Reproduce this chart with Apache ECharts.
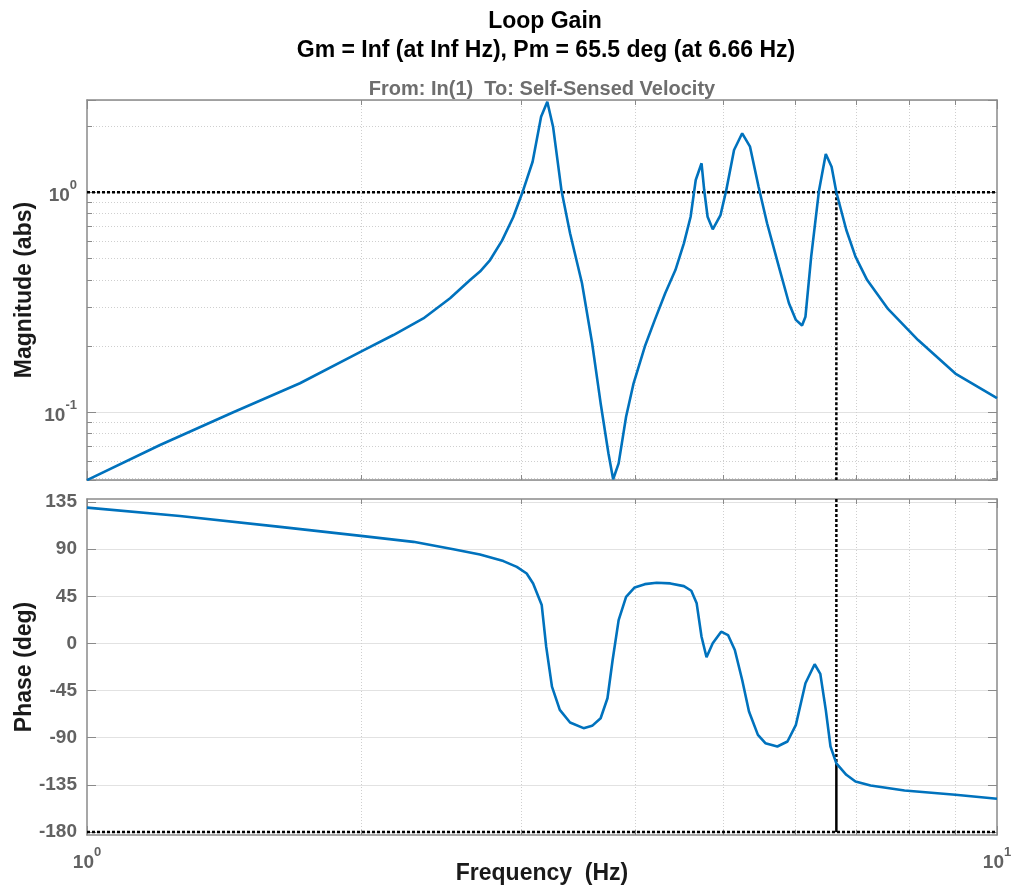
<!DOCTYPE html>
<html>
<head>
<meta charset="utf-8">
<script src="https://cdn.jsdelivr.net/npm/echarts@6/dist/echarts.min.js"></script>
<style>
html,body{margin:0;padding:0;background:#ffffff;}
#chart{width:1013px;height:887px;}
</style>
</head>
<body>
<div id="chart"></div>
<script>
// ---- Data ----
const magFreq = [1.000, 1.203, 1.448, 1.714, 2.000, 2.171, 2.342, 2.506, 2.636, 2.703, 2.773, 2.858, 2.940, 3.010,
  3.088, 3.155, 3.205, 3.252, 3.322, 3.395, 3.499, 3.590, 3.668, 3.741, 3.786, 3.839, 3.912, 3.987, 4.102, 4.207,
  4.318, 4.432, 4.528, 4.606, 4.666, 4.735, 4.767, 4.808, 4.871, 4.968, 5.040, 5.141, 5.248, 5.353, 5.470, 5.589,
  5.758, 5.907, 6.012, 6.106, 6.159, 6.249, 6.374, 6.484, 6.580, 6.660, 6.830, 6.990, 7.200, 7.580, 8.190, 9.000, 10.00];
const magValue = [0.0492, 0.0710, 0.100, 0.1355, 0.1887, 0.2245, 0.267, 0.330, 0.399, 0.436, 0.492, 0.603, 0.770, 1.000,
  1.377, 2.206, 2.580, 1.987, 1.020, 0.651, 0.386, 0.206, 0.110, 0.0651, 0.0496, 0.0586, 0.0955, 0.1355, 0.199, 0.263,
  0.347, 0.443, 0.586, 0.774, 1.137, 1.355, 1.024, 0.774, 0.679, 0.788, 1.020, 1.557, 1.854, 1.612, 1.060, 0.723,
  0.459, 0.313, 0.263, 0.248, 0.272, 0.510, 1.020, 1.493, 1.306, 1.000, 0.674, 0.510, 0.399, 0.297, 0.213, 0.150, 0.116];

const phaseFreq = [1.000, 1.265, 1.630, 2.000, 2.284, 2.527, 2.703, 2.868, 2.967, 3.042, 3.092, 3.160, 3.196, 3.243,
  3.308, 3.395, 3.513, 3.590, 3.668, 3.732, 3.781, 3.839, 3.912, 3.998, 4.102, 4.227, 4.375, 4.528, 4.614, 4.677,
  4.735, 4.795, 4.871, 4.976, 5.063, 5.151, 5.248, 5.339, 5.461, 5.565, 5.736, 5.885, 6.012, 6.159, 6.304, 6.395,
  6.484, 6.562, 6.660, 6.830, 6.990, 7.262, 7.914, 9.000, 10.00];
const phaseValue = [129.7, 121.7, 111.3, 102.7, 97.0, 90.0, 84.9, 78.6, 73.1, 66.8, 57.3, 36.6, -3.1, -41.2,
  -63.4, -75.5, -80.9, -78.7, -71.4, -52.3, -15.8, 22.3, 44.5, 53.5, 56.6, 57.9, 57.3, 54.7, 50.3, 38.3,
  6.4, -13.2, 0.1, 11.2, 8.0, -6.3, -34.9, -65.0, -87.3, -95.2, -98.4, -93.6, -77.7, -38.0, -19.9, -29.1,
  -63.4, -98.4, -114.5, -125.4, -131.8, -135.6, -140.4, -144.4, -148.3];

const phaseTicks = [-180, -135, -90, -45, 0, 45, 90, 135];
const freqRange = [1, 10];
const magRange = [0.04923, 2.627];
const phaseRange = [-182.9, 137.9];
const crossoverFreq = 6.66;
const phaseMargin = 65.5;
const unityGain = 1;
const phaseFloor = -180;

const titleLine1 = 'Loop Gain';
const titleLine2 = 'Gm = Inf (at Inf Hz), Pm = 65.5 deg (at 6.66 Hz)';
const ioLabel = 'From: In(1)  To: Self-Sensed Velocity';
const magName = 'Magnitude (abs)';
const phaseName = 'Phase (deg)';
const freqName = 'Frequency  (Hz)';

// ---- Build the chart ----
const FONT = '"Liberation Sans", Arial, Helvetica, sans-serif';
const AXIS_COLOR = '#8a8a8a';
const LABEL_COLOR = '#626262';
const GRID_COLOR = '#e2e2e2';
const MINOR_COLOR = '#cfcfcf';
const CURVE = '#0072BD';

const phaseAtCrossover = phaseFloor + phaseMargin;

function zip(a, b) { return a.map((v, i) => [v, b[i]]); }

const powLabel = function (value) {
  const e = Math.round(Math.log10(value));
  return '{b|10}{s|' + e + '}';
};
const powRich = {
  b: { fontSize: 19, fontWeight: 'bold', color: LABEL_COLOR, fontFamily: FONT, lineHeight: 26, verticalAlign: 'bottom' },
  s: { fontSize: 13, fontWeight: 'bold', color: LABEL_COLOR, fontFamily: FONT, lineHeight: 14, verticalAlign: 'top' }
};

function logX(gridIndex, position, showLabel) {
  return {
    type: 'log', logBase: 10, gridIndex: gridIndex, position: position,
    min: freqRange[0], max: freqRange[1],
    axisLine: { show: true, onZero: false, lineStyle: { color: AXIS_COLOR, width: 1.5 } },
    axisTick: { show: true, inside: true, length: 9, lineStyle: { color: AXIS_COLOR, width: 1 } },
    minorTick: { show: true, splitNumber: 9, length: 5, lineStyle: { color: AXIS_COLOR, width: 1 } },
    splitLine: { show: false },
    minorSplitLine: { show: position === 'bottom', lineStyle: { color: MINOR_COLOR, type: [1, 2], width: 1 } },
    axisLabel: {
      show: showLabel, formatter: powLabel, rich: powRich, margin: 11
    },
    name: showLabel ? freqName : '',
    nameLocation: 'middle', nameGap: 27, nameMoveOverlap: false,
    nameTextStyle: { fontSize: 23, fontWeight: 'bold', color: '#1a1a1a', fontFamily: FONT }
  };
}

function magY(position) {
  const main = position === 'left';
  return {
    type: 'log', logBase: 10, gridIndex: 0, position: position,
    min: magRange[0], max: magRange[1],
    axisLine: { show: true, onZero: false, lineStyle: { color: AXIS_COLOR, width: 1.5 } },
    axisTick: { show: true, inside: true, length: 9, lineStyle: { color: AXIS_COLOR, width: 1 } },
    minorTick: { show: true, splitNumber: 9, length: 5, lineStyle: { color: AXIS_COLOR, width: 1 } },
    splitLine: { show: main, lineStyle: { color: GRID_COLOR, width: 1.2 } },
    minorSplitLine: { show: main, lineStyle: { color: MINOR_COLOR, type: [1, 2], width: 1 } },
    axisLabel: {
      show: main, formatter: powLabel, rich: powRich, margin: 10,
      showMinLabel: false, showMaxLabel: false
    },
    name: main ? magName : '',
    nameLocation: 'middle', nameGap: 51, nameRotate: 90, nameMoveOverlap: false,
    nameTextStyle: { fontSize: 23, fontWeight: 'bold', color: '#1a1a1a', fontFamily: FONT }
  };
}

function phaseY(position) {
  const main = position === 'left';
  return {
    type: 'value', gridIndex: 1, position: position,
    min: phaseRange[0], max: phaseRange[1],
    axisLine: { show: true, onZero: false, lineStyle: { color: AXIS_COLOR, width: 1.5 } },
    axisTick: { show: true, inside: true, length: 9, customValues: phaseTicks, lineStyle: { color: AXIS_COLOR, width: 1 } },
    splitLine: { show: main, lineStyle: { color: GRID_COLOR, width: 1.2 } },
    axisLabel: {
      show: main, customValues: phaseTicks, margin: 10,
      fontSize: 19, fontWeight: 'bold', color: LABEL_COLOR, fontFamily: FONT
    },
    name: main ? phaseName : '',
    nameLocation: 'middle', nameGap: 51, nameRotate: 90, nameMoveOverlap: false,
    nameTextStyle: { fontSize: 23, fontWeight: 'bold', color: '#1a1a1a', fontFamily: FONT }
  };
}

const dotted = [3, 2];

const option = {
  animation: false,
  backgroundColor: '#ffffff',
  grid: [
    { left: 87, top: 100, width: 910, height: 380, show: false, containLabel: false, outerBoundsMode: 'none' },
    { left: 87, top: 499, width: 910, height: 336, show: false, containLabel: false, outerBoundsMode: 'none' }
  ],
  xAxis: [logX(0, 'bottom', false), logX(0, 'top', false), logX(1, 'bottom', true), logX(1, 'top', false)],
  yAxis: [magY('left'), magY('right'), phaseY('left'), phaseY('right')],
  graphic: [
    { type: 'text', x: 545, y: 22, silent: true,
      style: { text: titleLine1, fontSize: 23, fontWeight: 'bold', fontFamily: FONT, fill: '#000', align: 'center', verticalAlign: 'middle', textAlign: 'center', textVerticalAlign: 'middle' } },
    { type: 'text', x: 546, y: 51, silent: true,
      style: { text: titleLine2, fontSize: 23, fontWeight: 'bold', fontFamily: FONT, fill: '#000', align: 'center', verticalAlign: 'middle', textAlign: 'center', textVerticalAlign: 'middle' } },
    { type: 'text', x: 542, y: 89, silent: true,
      style: { text: ioLabel, fontSize: 20, fontWeight: 'bold', fontFamily: FONT, fill: '#6e6e6e', align: 'center', verticalAlign: 'middle', textAlign: 'center', textVerticalAlign: 'middle' } }
  ],
  series: [
    { type: 'line', xAxisIndex: 0, yAxisIndex: 0, showSymbol: false, silent: true, z: 3,
      data: [[freqRange[0], unityGain], [freqRange[1], unityGain]],
      lineStyle: { color: '#000', width: 2.5, type: dotted } },
    { type: 'line', xAxisIndex: 0, yAxisIndex: 0, showSymbol: false, silent: true, z: 3,
      data: [[crossoverFreq, unityGain], [crossoverFreq, magRange[0]]],
      lineStyle: { color: '#000', width: 2.5, type: dotted } },
    { type: 'line', xAxisIndex: 2, yAxisIndex: 2, showSymbol: false, silent: true, z: 3,
      data: [[freqRange[0], phaseFloor], [freqRange[1], phaseFloor]],
      lineStyle: { color: '#000', width: 2.5, type: dotted } },
    { type: 'line', xAxisIndex: 2, yAxisIndex: 2, showSymbol: false, silent: true, z: 3,
      data: [[crossoverFreq, phaseRange[1]], [crossoverFreq, phaseAtCrossover]],
      lineStyle: { color: '#000', width: 2.5, type: dotted } },
    { type: 'line', xAxisIndex: 2, yAxisIndex: 2, showSymbol: false, silent: true, z: 3,
      data: [[crossoverFreq, phaseAtCrossover], [crossoverFreq, phaseFloor]],
      lineStyle: { color: '#000', width: 2.5, type: 'solid' } },
    { name: 'Magnitude', type: 'line', xAxisIndex: 0, yAxisIndex: 0, showSymbol: false, silent: true, z: 4,
      data: zip(magFreq, magValue), clip: true,
      lineStyle: { color: CURVE, width: 2.6 } },
    { name: 'Phase', type: 'line', xAxisIndex: 2, yAxisIndex: 2, showSymbol: false, silent: true, z: 4,
      data: zip(phaseFreq, phaseValue), clip: true,
      lineStyle: { color: CURVE, width: 2.6 } }
  ]
};

const chart = echarts.init(document.getElementById('chart'), null, { renderer: 'canvas' });
chart.setOption(option);
</script>
</body>
</html>
